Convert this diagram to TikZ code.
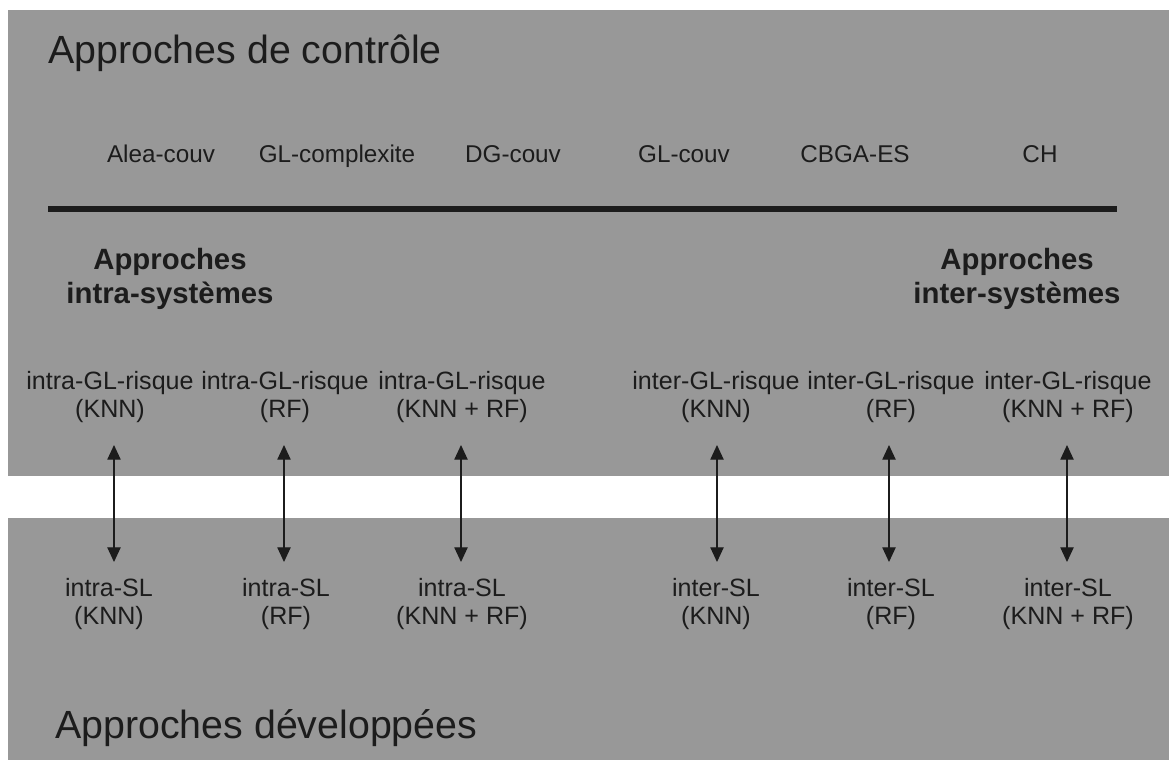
\documentclass[tikz,border=0pt]{standalone}
\usepackage{fontspec}
\setmainfont{Liberation Sans}
\usetikzlibrary{arrows.meta}
\definecolor{panelgray}{RGB}{152,152,152}
\definecolor{ink}{RGB}{28,28,28}
\tikzset{
  panel/.style={fill=panelgray, draw=none},
  bigtitle/.style={anchor=base west, text=ink, inner sep=0pt, font=\fontsize{29.5pt}{34pt}\selectfont},
  ctrl/.style={anchor=base, text=ink, inner sep=0pt, font=\fontsize{18.2pt}{21pt}\selectfont},
  group/.style={align=center, text=ink, inner sep=0pt, font=\bfseries\fontsize{22pt}{25.5pt}\selectfont},
  meth/.style={align=center, text=ink, inner sep=0pt, font=\fontsize{18.8pt}{21pt}\selectfont},
  link/.style={draw=ink, line width=0.9pt, {Triangle[width=10pt,length=11pt]}-{Triangle[width=10pt,length=11pt]}},
  sep/.style={draw=ink, line width=5pt}
}
\begin{document}
\begin{tikzpicture}[x=0.75pt,y=-0.75pt]
\useasboundingbox (0,0) rectangle (1169,760);
\fill[white] (0,0) rectangle (1169,760);
% panels
\path[panel] (8,10) rectangle (1169,476);
\path[panel] (8,518) rectangle (1169,760);
% titles
\node[bigtitle] (ttop) at (48,63) {Approches de contrôle};
\node[bigtitle] (tbot) at (55,738) {Approches développées};
% control approaches
\node[ctrl] (c1) at (161,162) {Alea-couv};
\node[ctrl] (c2) at (337,162) {GL-complexite};
\node[ctrl] (c3) at (513,162) {DG-couv};
\node[ctrl] (c4) at (684,162) {GL-couv};
\node[ctrl] (c5) at (855,162) {CBGA-ES};
\node[ctrl] (c6) at (1040,162) {CH};
% separator
\coordinate (sl) at (48,209);
\coordinate (sr) at (1117,209);
\draw[sep] (sl) -- (sr);
% groups
\node[group] (gintra) at (170,279) {Approches\\intra-systèmes};
\node[group] (ginter) at (1017,279) {Approches\\inter-systèmes};
% top methods
\node[meth] (t1) at (110,397) {intra-GL-risque\\(KNN)};
\node[meth] (t2) at (285,397) {intra-GL-risque\\(RF)};
\node[meth] (t3) at (462,397) {intra-GL-risque\\(KNN + RF)};
\node[meth] (t4) at (716,397) {inter-GL-risque\\(KNN)};
\node[meth] (t5) at (891,397) {inter-GL-risque\\(RF)};
\node[meth] (t6) at (1068,397) {inter-GL-risque\\(KNN + RF)};
% bottom methods
\node[meth] (b1) at (109,604) {intra-SL\\(KNN)};
\node[meth] (b2) at (286,604) {intra-SL\\(RF)};
\node[meth] (b3) at (462,604) {intra-SL\\(KNN + RF)};
\node[meth] (b4) at (716,604) {inter-SL\\(KNN)};
\node[meth] (b5) at (891,604) {inter-SL\\(RF)};
\node[meth] (b6) at (1068,604) {inter-SL\\(KNN + RF)};
% arrows
\foreach \i/\x in {1/114,2/284,3/461,4/717,5/889,6/1067}{
  \coordinate (u\i) at (\x,445);
  \coordinate (d\i) at (\x,562);
  \draw[link] (u\i) -- (d\i);
}
\end{tikzpicture}
\end{document}
